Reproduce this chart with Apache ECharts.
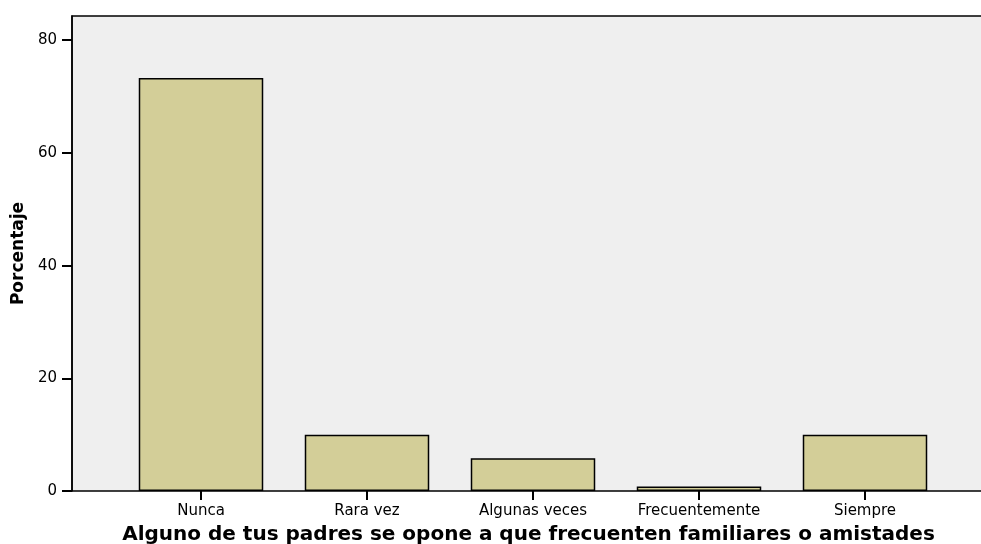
<!DOCTYPE html>
<html>
<head>
<meta charset="utf-8">
<script src="https://cdn.jsdelivr.net/npm/echarts@6/dist/echarts.min.js"></script>
<style>
html,body{margin:0;padding:0;background:#fff;}
#main{width:981px;height:544px;}
</style>
</head>
<body>
<div id="main"></div>
<script>
// categorias y porcentajes
var categorias = ['Nunca', 'Rara vez', 'Algunas veces', 'Frecuentemente', 'Siempre'];
var porcentajes = [73.3, 10.0, 5.8, 0.8, 10.0];
var yTicks = [0, 20, 40, 60, 80];
var yMax = 84.3;

var myChart = echarts.init(document.getElementById('main'));
var fuente = '"DejaVu Sans", Verdana, sans-serif';

var option = {
	animation: false,
	textStyle: { fontFamily: fuente },
	grid: [
		//marco de fondo
		{ left: 72, right: -10, top: 16, bottom: 53, outerBoundsMode: 'none', show: true, backgroundColor: '#efefef', borderColor: '#000', borderWidth: 1.5 },
		//area de barras
		{ left: 118, right: 33, top: 16, bottom: 53, outerBoundsMode: 'none' }
	],
	xAxis: [
		{ gridIndex: 0, type: 'value', show: false, min: 0, max: 1 },
		{
			gridIndex: 1,
			type: 'category',
			data: categorias,
			axisLine: { show: false },
			axisTick: { show: true, alignWithLabel: true, length: 9, lineStyle: { color: '#000', width: 2 } },
			axisLabel: { color: '#000', fontSize: 15, margin: 13, fontFamily: fuente },
			name: 'Alguno de tus padres se opone a que frecuenten familiares o amistades',
			nameLocation: 'middle',
			nameGap: 34,
			nameTextStyle: { color: '#000', fontSize: 20, fontWeight: 'bold', fontFamily: fuente, padding: [0, 9, 0, 0] }
		}
	],
	yAxis: [
		{
			gridIndex: 0,
			type: 'value',
			min: 0,
			max: yMax,
			interval: 20,
			axisLine: { show: true, lineStyle: { color: '#000', width: 1.5 } },
			axisTick: { show: true, length: 10, customValues: yTicks, lineStyle: { color: '#000', width: 2 } },
			axisLabel: { color: '#000', fontSize: 15, margin: 15, customValues: yTicks, fontFamily: fuente },
			splitLine: { show: false },
			name: 'Porcentaje',
			nameLocation: 'middle',
			nameGap: 42,
			nameTextStyle: { color: '#000', fontSize: 17, fontWeight: 'bold', fontFamily: fuente }
		},
		{ gridIndex: 1, type: 'value', show: false, min: 0, max: yMax, splitLine: { show: false } }
	],
	series: [{
		type: 'bar',
		xAxisIndex: 1,
		yAxisIndex: 1,
		data: porcentajes,
		barWidth: '75%',
		itemStyle: { color: '#d3ce98', borderColor: '#000', borderWidth: 1.5 }
	}]
};
myChart.setOption(option);
</script>
</body>
</html>
